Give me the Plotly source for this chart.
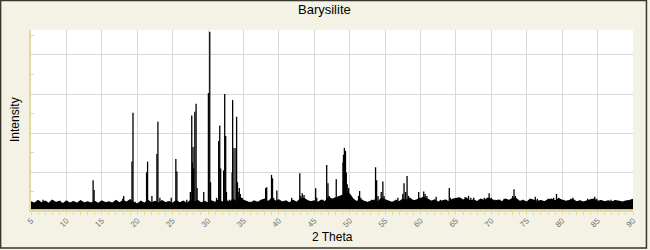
import numpy as np
import plotly.graph_objects as go

# ---- data ----
peak_pos = [6.7, 7.2, 9.1, 12.3, 13.77, 13.91, 15.3, 17.0, 17.95, 18.09,
            19.26, 19.40, 19.7, 21.32, 21.46, 22.07, 22.78, 22.92, 23.2, 24.2,
            24.8, 25.45, 25.6, 26.3, 27.0, 27.5, 27.70, 27.80, 27.88, 27.95,
            28.13, 28.31, 28.45, 28.8, 29.39, 30.05, 30.24, 30.35, 30.7, 31.2,
            31.5, 31.65, 31.78, 32.2, 32.35, 32.49, 32.6, 33.0, 33.4, 33.47,
            33.66, 33.94, 34.03, 34.15, 34.35, 34.41, 34.55, 34.8, 35.3, 36.0,
            37.0, 37.7, 38.13, 38.28, 38.96, 39.1, 39.25, 39.71, 40.5, 41.8,
            42.95, 43.1, 43.3, 43.55, 43.8, 44.5, 45.2, 45.35, 46.2, 46.75,
            46.93, 47.1, 47.4, 47.9, 48.1, 48.3, 48.7, 49.05, 49.12, 49.25,
            49.4, 49.52, 49.65, 49.85, 50.0, 50.5, 51.25, 51.4, 51.55, 52.3,
            53.1, 53.65, 53.8, 54.0, 54.45, 54.68, 54.85, 55.5, 56.5, 56.8,
            57.5, 57.67, 57.9, 58.1, 58.3, 59.0, 59.74, 59.9, 60.45, 60.65,
            60.9, 61.2, 62.2, 62.8, 63.6, 64.06, 64.2, 65.0, 65.8, 66.3,
            66.78, 67.1, 67.5, 68.2, 69.0, 69.69, 70.0, 70.5, 71.2, 71.8,
            72.3, 73.0, 73.2, 73.4, 74.5, 75.5, 76.2, 76.5, 77.0, 78.0,
            78.8, 79.2, 79.5, 80.2, 81.2, 81.5, 82.5, 83.6, 84.2, 84.6,
            84.9, 85.5, 86.5, 86.9, 88.0, 89.2, 89.8]
peak_int = [6, 5, 5.5, 5, 16, 11, 5, 5.5, 6.5, 8,
            25.5, 50.5, 5, 20, 25.5, 8, 29.4, 45.9, 7, 5,
            7, 26.8, 20.5, 5, 6, 10, 49, 25, 33, 22,
            51, 55, 12, 5, 10, 60.5, 91.8, 15, 5, 7,
            36, 44, 22, 21, 60, 38.6, 10, 6, 20, 57,
            32.4, 32.4, 48.4, 15, 10, 12, 9, 7, 5, 5,
            5, 6, 12, 12.4, 18.7, 17, 7, 10.7, 5, 7,
            19.5, 8, 9.4, 8.5, 6, 5, 11.9, 7, 6, 23.8,
            14.4, 8, 6, 7, 16.5, 7, 8, 25, 29, 32.5,
            31, 20, 14, 12, 8, 5, 8, 10.5, 7, 5,
            6, 22.6, 16, 8, 10, 15.3, 8, 5, 6, 7,
            9, 14.4, 10, 18.2, 8, 6, 10, 7, 10.2, 9,
            8, 6, 7.6, 6, 6, 12, 7, 6, 6.5, 7.5,
            8, 7, 7, 6, 7, 9.3, 7, 6, 6, 6.5,
            6, 8, 11.4, 8, 6, 6, 7.6, 6.5, 5.5, 6.5,
            7, 9, 7, 6, 6.5, 7, 5.5, 6.5, 6.5, 7.6,
            6.5, 5.5, 5.5, 6, 5.5, 5.5, 6]

# background (upper edge of the noise band), every 0.5 deg from 5 to 90
bg_int = [5.0, 4.2, 5.6, 4.4, 5.3, 4.1, 5.8, 4.6, 5.2, 4.0, 5.4, 4.3, 5.1, 4.2, 5.5, 4.4, 5.0,
          4.3, 5.2, 4.1, 5.4, 4.5, 5.0, 4.2, 5.6, 4.4, 5.7, 4.8, 6.0, 4.6, 3.8,
          5.3, 4.2, 5.8, 4.4, 5.2, 4.3, 5.6, 4.5, 5.1, 4.2, 5.7, 4.4, 5.3, 4.1, 5.5, 4.6, 5.8, 4.4, 5.2, 4.3,
          5.4, 4.6, 6.0, 4.8, 5.8, 4.6, 6.3, 5.0, 7.3, 5.8, 5.2, 4.3, 5.4, 4.6, 5.8, 6.3, 5.0, 6.8, 5.3, 6.0,
          4.8, 5.4, 4.4, 5.8, 4.6, 6.3, 6.8, 5.6, 5.0, 5.4, 4.6, 5.8, 5.0, 7.3, 6.3, 6.8, 7.6, 8.3, 9.8, 8.8,
          6.3, 5.0, 6.3, 5.2, 4.6, 5.4, 5.8, 5.0, 6.8, 6.0, 5.2, 4.6, 5.6, 5.0, 6.3, 5.8, 6.8, 5.4, 6.0, 6.8,
          7.3, 6.3, 5.2, 6.0, 4.8, 5.4, 5.8, 5.0, 6.2, 6.6, 7.0, 5.8, 6.8, 5.4, 6.0, 5.0, 6.3, 5.6, 6.8, 6.2,
          5.4, 5.8, 5.0, 6.3, 5.6, 6.8, 6.6, 5.2, 5.6, 4.8, 6.3, 5.8, 5.2, 5.6, 5.0, 6.0, 6.4, 5.4, 6.6, 5.8,
          5.2, 5.6, 6.2, 5.0, 5.4, 4.8, 5.6, 6.0, 6.4, 5.2, 5.6, 5.0, 5.4, 4.8, 5.6, 5.2, 4.8, 5.4, 5.6, 6.2]
bg_base = 1.3
x_ticks = [5, 10, 15, 20, 25, 30, 35, 40, 45, 50, 55, 60, 65, 70, 75, 80, 85, 90]

bg_x = np.linspace(5, 90, len(bg_int))

# ---- figure ----
BEIGE = "#F4F2E5"
TAN = "#E2DA9E"
GRID = "#D9D9D9"

fig = go.Figure()
fig.add_trace(go.Scatter(x=[5, 90], y=[bg_base, bg_base], mode="lines",
                         line=dict(color="black", width=0.5), hoverinfo="skip"))
fig.add_trace(go.Scatter(x=bg_x, y=bg_int, mode="lines", fill="tonexty",
                         fillcolor="black", line=dict(color="black", width=1.2),
                         hoverinfo="skip"))
sx, sy = [], []
for p, h in zip(peak_pos, peak_int):
    sx += [p, p, None]
    sy += [bg_base, h, None]
fig.add_trace(go.Scatter(x=sx, y=sy, mode="lines",
                         line=dict(color="black", width=1.3), hoverinfo="skip"))

fig.update_layout(
    width=650, height=250,
    margin=dict(l=31, r=15, t=30, b=40),
    paper_bgcolor=BEIGE, plot_bgcolor="white",
    showlegend=False,
    font=dict(family="Liberation Sans, Arial, sans-serif", color="black"),
)
fig.update_xaxes(
    range=[5, 90], tickmode="array", tickvals=x_ticks,
    ticktext=[str(v) for v in x_ticks], tickangle=-45,
    tickfont=dict(size=8, color="#707070"),
    ticklabelstandoff=-2,
    showline=True, linecolor=TAN, linewidth=2,
    ticks="outside", ticklen=3, tickcolor=TAN,
    showgrid=True, gridcolor=GRID, gridwidth=1,
    minor=dict(dtick=1, ticks="outside", ticklen=3, tickcolor=TAN, showgrid=False),
    zeroline=False,
)
fig.update_yaxes(
    range=[0.8, 92.7], dtick=20, tick0=0, showticklabels=False,
    showline=True, linecolor=TAN, linewidth=2,
    ticks="inside", ticklen=3, tickcolor=TAN,
    showgrid=True, gridcolor=GRID, gridwidth=1,
    minor=dict(dtick=10, ticks="inside", ticklen=3, tickcolor=TAN, showgrid=False),
    zeroline=False,
)

fig.add_annotation(text="Barysilite", xref="paper", yref="paper",
                   x=(325 - 31) / 604, y=(210 - 10) / 180, showarrow=False,
                   font=dict(size=13, color="black"), xanchor="center", yanchor="middle")
fig.add_annotation(text="2 Theta", xref="paper", yref="paper",
                   x=0.5, y=(210 - 237) / 180, showarrow=False,
                   font=dict(size=12, color="black"), xanchor="center", yanchor="middle")
fig.add_annotation(text="Intensity", xref="paper", yref="paper",
                   x=(15 - 31) / 604, y=0.5, showarrow=False, textangle=-90,
                   font=dict(size=12, color="black"), xanchor="center", yanchor="middle")

# outer dark frame
fig.add_shape(type="rect", xref="paper", yref="paper",
              x0=(0.5 - 31) / 604, x1=(648.5 - 31) / 604,
              y0=(210 - 248) / 180, y1=(210 - 0.5) / 180,
              line=dict(color="#3A352C", width=1.5), fillcolor="rgba(0,0,0,0)",
              layer="above")

fig.write_html("out.html")
